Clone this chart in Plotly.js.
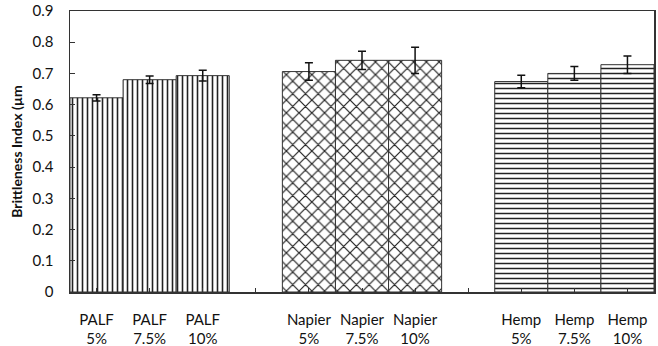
<!DOCTYPE html>
<html>
<head>
<meta charset="utf-8">
<script src="https://cdn.plot.ly/plotly-3.0.1.min.js"></script>
<style>html,body{margin:0;padding:0;background:#fff;}#chart{width:658px;height:346px;}</style>
</head>
<body>
<div id="chart"></div>
<script>
const groups = ['PALF', 'Napier', 'Hemp'];
const levels = ['5%', '7.5%', '10%'];
const palfValues = [0.622, 0.680, 0.693];
const palfErrors = [0.010, 0.012, 0.017];
const napierValues = [0.706, 0.742, 0.742];
const napierErrors = [0.028, 0.029, 0.042];
const hempValues = [0.674, 0.700, 0.728];
const hempErrors = [0.020, 0.022, 0.028];
const yTitle = 'Brittleness Index (µm';

const seriesValues = [palfValues, napierValues, hempValues];
const seriesErrors = [palfErrors, napierErrors, hempErrors];
const patterns = [
  {shape: '|', size: 5, solidity: 0.32},
  {shape: 'x', size: 9, solidity: 0.25},
  {shape: '-', size: 5, solidity: 0.3}
];
const slotsPerGroup = levels.length + 1;

const traces = groups.map((g, gi) => ({
  type: 'bar',
  x: levels.map((l, li) => gi * slotsPerGroup + li),
  y: seriesValues[gi],
  width: 1,
  name: g,
  marker: {
    color: 'white',
    line: {color: '#333', width: 1},
    pattern: Object.assign({fgcolor: '#222', bgcolor: 'white', fillmode: 'replace'}, patterns[gi])
  },
  error_y: {type: 'data', array: seriesErrors[gi], visible: true, color: '#111', thickness: 1.5, width: 4},
  hoverinfo: 'skip'
}));

const tickvals = [];
const ticktext = [];
const nSlots = groups.length * slotsPerGroup - 1;
for (let s = 0; s < nSlots; s++) {
  tickvals.push(s);
  const gi = Math.floor(s / slotsPerGroup);
  const li = s % slotsPerGroup;
  ticktext.push(li < levels.length ? groups[gi] + '<br>' + levels[li] : '');
}

const font = {family: 'Lato, "Open Sans", sans-serif', size: 15, color: '#111'};

const layout = {
  width: 658, height: 346,
  margin: {l: 70, r: 4, t: 11, b: 54},
  paper_bgcolor: 'white', plot_bgcolor: 'white',
  showlegend: false,
  barmode: 'overlay',
  bargap: 0,
  font: font,
  xaxis: {
    range: [-0.5, nSlots - 0.5],
    tickvals: tickvals, ticktext: ticktext,
    ticks: 'inside', ticklen: 4, tickcolor: '#333',
    showline: true, linecolor: '#333', linewidth: 1.5, mirror: true,
    showgrid: false, zeroline: false,
    ticklabelstandoff: 13,
    tickfont: font
  },
  yaxis: {
    range: [0, 0.9], dtick: 0.1, tick0: 0,
    ticks: 'inside', ticklen: 5, tickcolor: '#333',
    showline: true, linecolor: '#333', linewidth: 1.5, mirror: true,
    showgrid: false, zeroline: false,
    ticklabelstandoff: 12,
    tickfont: font,
    title: {text: yTitle, font: {family: 'Lato, "Open Sans", sans-serif', size: 14, color: '#111', weight: 'bold'}, standoff: 6}
  }
};

Plotly.newPlot('chart', traces, layout, {staticPlot: true, displayModeBar: false});
</script>
</body>
</html>
